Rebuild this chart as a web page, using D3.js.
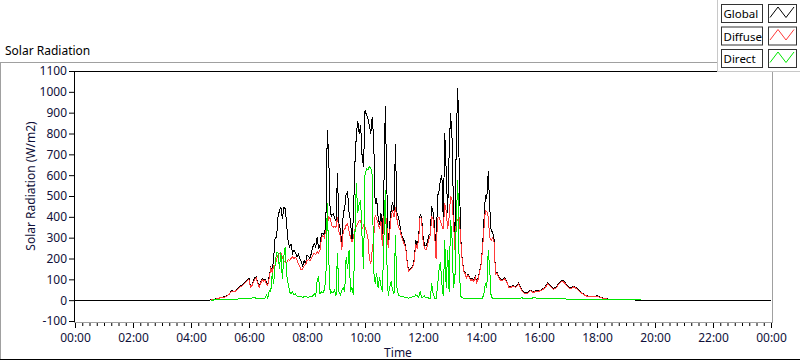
<!DOCTYPE html>
<html><head><meta charset="utf-8">
<script src="https://cdn.jsdelivr.net/npm/d3@7"></script>
<style>
html,body{margin:0;padding:0;background:#fff;}
svg{display:block;font-family:"Noto Sans",sans-serif;}
</style></head><body>
<svg id="chart" width="800" height="361"></svg>
<script>
const times = [
"00:00","04:36","04:42","04:48","04:54","05:00","05:06","05:12","05:18","05:24",
"05:30","05:33","05:36","05:39","05:42","05:45","05:48","05:51","05:54","05:57",
"06:00","06:03","06:06","06:09","06:12","06:15","06:18","06:21","06:24","06:27","06:30","06:33","06:36","06:39","06:42","06:45","06:48","06:51","06:54","06:57",
"07:00","07:03","07:06","07:09","07:12","07:15","07:18","07:21","07:24","07:27","07:30","07:33","07:36","07:39","07:42","07:45","07:48","07:51","07:54","07:57",
"08:00","08:03","08:06","08:09","08:12","08:15","08:18","08:21","08:24","08:27","08:30","08:33","08:36","08:39","08:42","08:45","08:48","08:51","08:54","08:57",
"09:00","09:03","09:06","09:09","09:12","09:15","09:18","09:21","09:24","09:27","09:30","09:33","09:36","09:39","09:42","09:45","09:48","09:51","09:54","09:57",
"10:00","10:03","10:06","10:09","10:12","10:15","10:18","10:21","10:24","10:27","10:30","10:33","10:36","10:39","10:42","10:45","10:48","10:51","10:54","10:57",
"11:00","11:03","11:06","11:09","11:12","11:15","11:18","11:21","11:24","11:27","11:30","11:33","11:36","11:39","11:42","11:45","11:48","11:51","11:54","11:57",
"12:00","12:03","12:06","12:09","12:12","12:15","12:18","12:21","12:24","12:27","12:30","12:33","12:36","12:39","12:42","12:45","12:48","12:51","12:54","12:57",
"13:00","13:03","13:06","13:09","13:12","13:15","13:18","13:21","13:24","13:27","13:30","13:33","13:36","13:39","13:42","13:45","13:48","13:51","13:54","13:57",
"14:00","14:03","14:06","14:09","14:12","14:15","14:18","14:21","14:24","14:27","14:30","14:33","14:36","14:39","14:42","14:45","14:48","14:51","14:54","14:57",
"15:00",
"15:06","15:12","15:18","15:24","15:30","15:36","15:42","15:48","15:54",
"16:00","16:06","16:12","16:18","16:24","16:30","16:36","16:42","16:48","16:54",
"17:00","17:06","17:12","17:18","17:24","17:30","17:36","17:42","17:48","17:54",
"18:00","18:06","18:12","18:18","18:24","18:30","18:36","18:42","18:48","18:54",
"19:00","19:06","19:12","19:18","19:24","19:30",
"24:00"
];

const globalW = [
0,0,2,5,8,12,15,18,28,45,
42,48,52,62,68,72,78,85,92,100,
104,65,72,92,108,112,85,62,84,104,98,100,88,76,118,155,140,200,300,300,
400,430,448,390,445,440,360,280,256,270,224,240,230,208,220,200,185,165,190,176,
214,210,200,225,255,272,256,304,245,265,320,320,310,370,816,680,420,405,415,395,
380,610,370,340,270,420,440,510,520,420,380,290,400,650,790,860,800,840,690,640,
910,890,870,840,800,880,770,460,490,400,360,420,290,530,930,560,270,360,430,470,
430,750,420,400,365,320,300,285,260,192,144,148,155,165,200,288,256,304,410,400,
310,265,260,280,310,320,450,420,360,200,500,520,576,600,380,800,620,420,700,896,
780,450,260,800,1016,620,300,200,144,132,110,125,110,96,105,92,115,90,105,140,
175,250,380,500,490,620,450,330,330,290,130,136,115,105,96,100,108,100,88,66,
64,
70,66,83,50,36,35,48,40,45,
46,51,62,82,70,56,64,85,97,84,
66,58,68,58,44,32,24,19,20,17,
22,16,10,8,5,5,3,3,3,2,
2,2,1,1,0,0,
0
];

const diffuseW = [
null,null,1,4,7,11,13,16,26,42,
40,45,49,58,64,68,74,80,88,95,
98,62,69,86,100,105,80,60,80,98,92,95,78,72,110,150,135,165,170,195,
215,225,226,205,190,180,182,195,190,200,208,200,205,195,175,160,145,150,165,170,
190,195,190,200,215,225,220,232,225,240,300,310,300,336,360,400,390,360,350,355,
350,400,330,310,240,330,340,360,368,330,300,280,300,340,352,370,380,384,340,360,
350,330,300,200,176,240,300,410,390,370,340,380,260,400,420,370,250,320,400,430,
400,448,390,352,340,310,290,270,255,185,140,145,150,160,190,270,250,290,400,390,
290,250,240,260,290,310,400,390,320,200,390,400,380,360,340,464,430,340,400,500,
480,380,240,390,384,400,290,195,140,128,106,120,106,92,100,88,110,86,100,135,
170,240,340,432,425,400,300,288,300,280,125,130,110,100,92,96,104,96,84,63,
60,
66,62,78,47,33,32,45,37,42,
43,48,58,78,66,52,60,80,92,80,
62,54,64,55,41,30,22,17,18,15,
20,14,9,7,4,4,3,3,2,2,
2,1,1,1,1,1,
null
];

const directW = [
null,null,0,1,1,2,3,3,3,4,
4,5,5,6,6,8,8,7,8,6,
8,7,10,14,12,8,6,6,7,6,8,8,25,10,45,40,128,80,170,230,
228,150,230,100,210,256,120,80,40,30,40,25,30,20,16,18,16,14,16,18,
15,14,20,16,20,32,20,96,110,30,40,35,50,100,464,200,30,40,35,50,
20,224,40,25,48,60,40,208,150,240,40,60,25,300,560,420,460,480,300,150,
600,630,625,640,635,600,140,80,130,60,110,70,40,288,528,200,20,60,90,50,
30,312,60,25,20,18,20,15,12,14,10,12,14,18,16,25,22,15,40,15,
15,20,10,12,10,8,80,30,10,5,60,144,184,80,20,288,60,240,40,384,
300,60,100,400,576,150,20,12,10,8,8,8,9,8,8,9,8,8,9,8,
8,10,30,80,60,240,150,15,10,10,8,9,8,8,8,9,8,8,8,7,
7,
7,8,6,12,7,7,6,12,10,
7,7,7,6,6,6,6,6,6,6,
5,5,5,5,5,4,4,4,4,4,
3,3,3,3,3,3,3,3,3,3,
3,3,3,3,3,3,
null
];

const seriesNames = ["Global","Diffuse","Direct"];
const yTicks = [-100,0,100,200,300,400,500,600,700,800,900,1000,1100];
const xTickLabels = ["00:00","02:00","04:00","06:00","08:00","10:00","12:00","14:00","16:00","18:00","20:00","22:00","00:00"];
const titleText = "Solar Radiation";
const yTitle = "Solar Radiation (W/m2)";
const xTitle = "Time";

const colors = ["#000000","#ff3a3a","#00e600"];
const svg = d3.select("#chart");
const toMin = s => (+s.slice(0,2))*60 + (+s.slice(3,5));

const x = d3.scaleLinear().domain([0,1440]).range([75,771]);
const y = d3.scaleLinear().domain([-100,1100]).range([321,71]);

// outer panel
svg.append("rect").attr("x",0).attr("y",0).attr("width",800).attr("height",361).attr("fill","#fff");
svg.append("text").attr("x",5).attr("y",55).attr("font-size",12).attr("fill","#000").text(titleText);
svg.append("line").attr("x1",0).attr("x2",718).attr("y1",62.5).attr("y2",62.5).attr("stroke","#a0a0a0");
svg.append("line").attr("x1",0.5).attr("x2",0.5).attr("y1",62).attr("y2",360).attr("stroke","#a0a0a0");
svg.append("line").attr("x1",0).attr("x2",800).attr("y1",359.5).attr("y2",359.5).attr("stroke","#000");

// plot frame
svg.append("line").attr("x1",74).attr("x2",773).attr("y1",71.5).attr("y2",71.5).attr("stroke","#000");
svg.append("line").attr("x1",74.5).attr("x2",74.5).attr("y1",71).attr("y2",323).attr("stroke","#000");
svg.append("line").attr("x1",772.5).attr("x2",772.5).attr("y1",71).attr("y2",323).attr("stroke","#a0a0a0");
svg.append("line").attr("x1",74).attr("x2",773).attr("y1",322.5).attr("y2",322.5).attr("stroke","#a0a0a0");

// y axis
const yAxis = d3.axisLeft(y).tickValues(yTicks).tickSize(5).tickPadding(2).tickFormat(d => String(d));
const gy = svg.append("g").attr("transform","translate(74,0)").call(yAxis);
gy.select(".domain").remove();
gy.selectAll("text").attr("font-size",12).attr("font-family","Noto Sans").attr("fill","#10103a");
gy.selectAll("line").attr("stroke","#000");

// x axis major + minor
const majorVals = xTickLabels.map((s,i) => i*120);
const minorVals = d3.range(0,1441,15).filter(v => v % 120 !== 0);
const xAxisMinor = d3.axisBottom(x).tickValues(minorVals).tickSize(3).tickFormat("");
const gxm = svg.append("g").attr("transform","translate(0,323)").call(xAxisMinor);
gxm.select(".domain").remove();
gxm.selectAll("line").attr("stroke","#000");
const xAxis = d3.axisBottom(x).tickValues(majorVals).tickSize(5).tickPadding(5).tickFormat((d,i) => xTickLabels[i]);
const gx = svg.append("g").attr("transform","translate(0,323)").call(xAxis);
gx.select(".domain").remove();
gx.selectAll("text").attr("font-size",12).attr("font-family","Noto Sans").attr("fill","#10103a");
gx.selectAll("line").attr("stroke","#000");

// axis titles
svg.append("text").attr("transform","translate(35,186) rotate(-90)").attr("text-anchor","middle")
  .attr("font-size",12).attr("fill","#10103a").text(yTitle);
svg.append("text").attr("x",398).attr("y",357).attr("text-anchor","middle")
  .attr("font-size",12).attr("fill","#10103a").text(xTitle);

// data lines
const seriesVals = [globalW, diffuseW, directW];
const tMin = times.map(toMin);
const line = d3.line().defined(d => d[1] !== null).x(d => x(d[0])).y(d => y(d[1]));
seriesVals.forEach((vals,k) => {
  const pts = tMin.map((t,i) => [t, vals[i]]);
  svg.append("path").datum(pts).attr("d", line).attr("fill","none")
    .attr("stroke", colors[k]).attr("stroke-width",1).attr("shape-rendering","crispEdges");
});

// legend
const lg = svg.append("g");
lg.append("rect").attr("x",717.5).attr("y",-1).attr("width",84).attr("height",72.5)
  .attr("fill","#fff").attr("stroke","#c8c8c8");
seriesNames.forEach((name,i) => {
  const y0 = 4.5 + i*22.5;
  lg.append("rect").attr("x",721.5).attr("y",y0).attr("width",41).attr("height",18)
    .attr("fill","#fff").attr("stroke","#333");
  lg.append("text").attr("x",723.5).attr("y",y0+13.5).attr("font-size",11.5).attr("fill","#000").text(name);
  lg.append("rect").attr("x",768.5).attr("y",y0).attr("width",28).attr("height",18)
    .attr("fill","#fff").attr("stroke","#333");
  lg.append("path").attr("d",`M770,${y0+13} L778,${y0+2.5} L786,${y0+13} L794,${y0+2.5}`)
    .attr("fill","none").attr("stroke",colors[i]).attr("stroke-width",1);
});
</script>
</body></html>
